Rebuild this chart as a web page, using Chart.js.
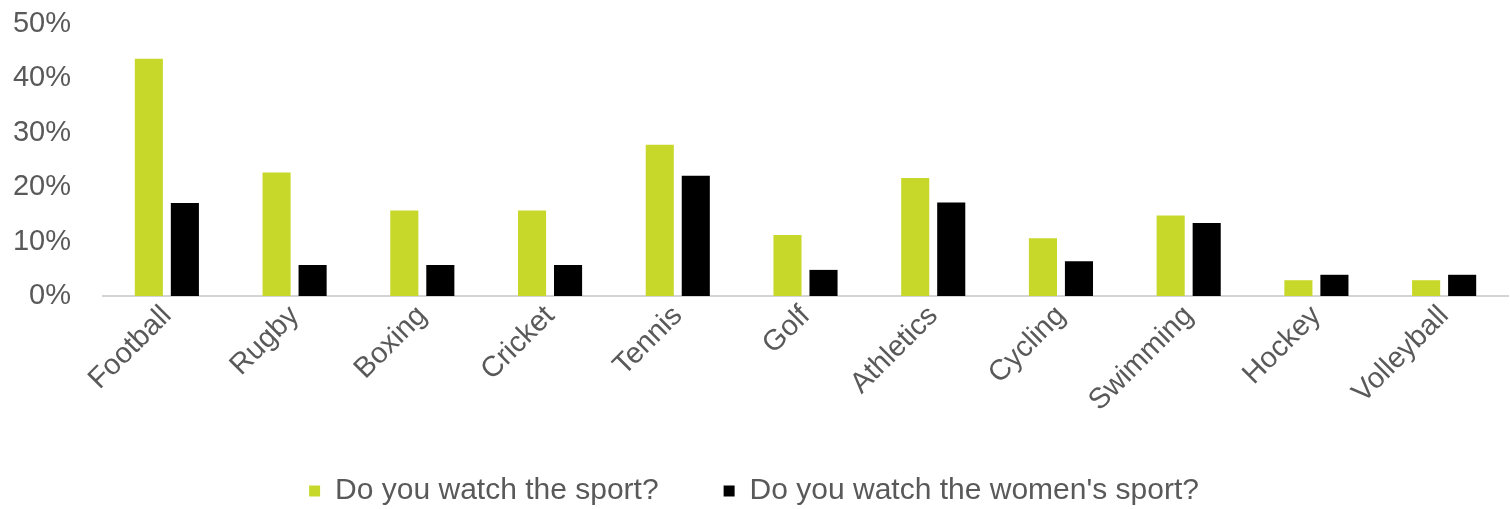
<!DOCTYPE html>
<html>
<head>
<meta charset="utf-8">
<title>Sports watched</title>
<script src="https://cdn.jsdelivr.net/npm/chart.js@4/dist/chart.umd.min.js"></script>
<style>
  html, body { margin: 0; padding: 0; background: #fff; }
  #wrap { width: 1510px; height: 509px; }
</style>
</head>
<body>
<div id="wrap"><canvas id="sportsChart"></canvas></div>
<script>
// Survey answers, percent of respondents
const sports = ['Football', 'Rugby', 'Boxing', 'Cricket', 'Tennis', 'Golf', 'Athletics', 'Cycling', 'Swimming', 'Hockey', 'Volleyball'];
const watchSport = [43.6, 22.7, 15.7, 15.7, 27.8, 11.2, 21.7, 10.6, 14.8, 2.9, 2.9];
const watchWomens = [17.1, 5.7, 5.7, 5.7, 22.1, 4.8, 17.2, 6.4, 13.4, 3.9, 3.9];
const seriesNames = ['Do you watch the sport?', "Do you watch the women's sport?"];
const yTicks = [0, 10, 20, 30, 40, 50];

const textGrey = '#595959';
const font = 'Liberation Sans, Arial, sans-serif';

const ctx = document.getElementById('sportsChart');
new Chart(ctx, {
    type: 'bar',
    data: {
        labels: sports,
        datasets: [{
            label: seriesNames[0],
            data: watchSport,
            backgroundColor: '#c8d82a',
            barPercentage: 0.78,
            categoryPercentage: 0.564
        }, {
            label: seriesNames[1],
            data: watchWomens,
            backgroundColor: '#000000',
            barPercentage: 0.78,
            categoryPercentage: 0.564
        }]
    },
    options: {
        responsive: true,
        maintainAspectRatio: false,
        animation: false,
        layout: {
            padding: { top: 24, right: 2, bottom: 0, left: 0 }
        },
        scales: {
            x: {
                grid: { display: false },
                border: { color: '#d4d4d4', width: 2 },
                ticks: {
                    color: textGrey,
                    font: { family: font, size: 29 },
                    minRotation: 45,
                    maxRotation: 45,
                    padding: -5
                },
                afterFit: (scale) => { scale.height = 115; }
            },
            y: {
                min: 0,
                max: yTicks[yTicks.length - 1],
                grid: { display: false },
                border: { display: false },
                afterBuildTicks: (scale) => {
                    scale.ticks = yTicks.map(v => ({ value: v }));
                },
                ticks: {
                    color: textGrey,
                    font: { family: font, size: 29 },
                    padding: 24,
                    callback: (v) => v + '%'
                },
                afterFit: (scale) => {
                    // fixed axis width; let the layout padding decide the top edge
                    scale.width = 103;
                    scale.paddingTop = 0;
                    scale.paddingBottom = 0;
                }
            }
        },
        plugins: {
            legend: {
                position: 'bottom',
                maxHeight: 98,
                labels: {
                    color: textGrey,
                    font: { family: font, size: 30 },
                    boxWidth: 11,
                    boxHeight: 11,
                    padding: 65
                }
            },
            tooltip: { enabled: false }
        }
    }
});
</script>
</body>
</html>
